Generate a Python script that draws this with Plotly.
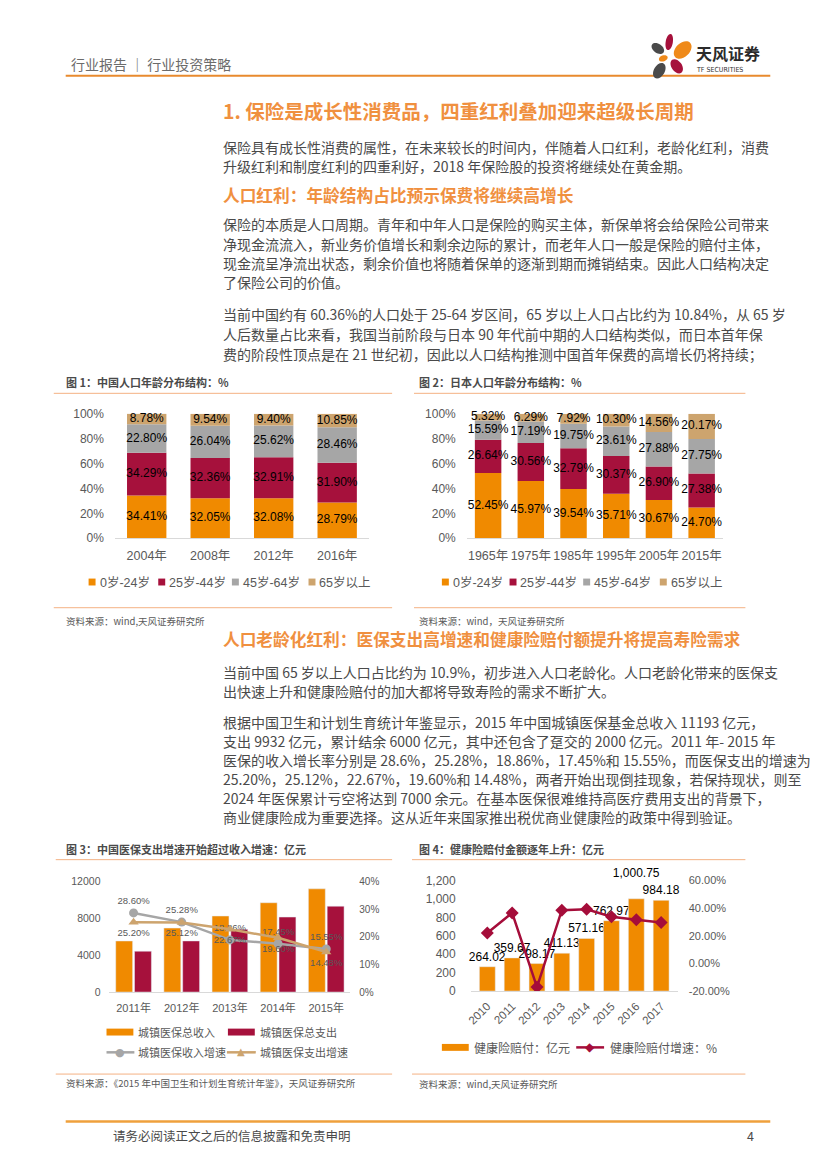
import math
import numpy as np
import plotly.graph_objects as go

W, H = 827, 1169


def px(x):
    return x / W


def py(y):
    return 1 - y / H


# ---------------- data ----------------
age_groups = ["0岁-24岁", "25岁-44岁", "45岁-64岁", "65岁以上"]

cn_years = ["2004年", "2008年", "2012年", "2016年"]
cn_0_24 = [34.41, 32.05, 32.08, 28.79]
cn_25_44 = [34.29, 32.36, 32.91, 31.90]
cn_45_64 = [22.80, 26.04, 25.62, 28.46]
cn_65 = [8.78, 9.54, 9.40, 10.85]

jp_years = ["1965年", "1975年", "1985年", "1995年", "2005年", "2015年"]
jp_0_24 = [52.45, 45.97, 39.54, 35.71, 30.67, 24.70]
jp_25_44 = [26.64, 30.56, 32.79, 30.37, 26.90, 27.38]
jp_45_64 = [15.59, 17.19, 19.75, 23.61, 27.88, 27.75]
jp_65 = [5.32, 6.29, 7.92, 10.30, 14.56, 20.17]

pct_ticks = [0, 20, 40, 60, 80, 100]

med_years = ["2011年", "2012年", "2013年", "2014年", "2015年"]
med_income = [5539, 6939, 8248, 9687, 11193]
med_expense = [4431, 5544, 6801, 8134, 9312]
med_income_growth = [0.2860, 0.2528, 0.1886, 0.1745, 0.1555]
med_expense_growth = [0.2520, 0.2512, 0.2267, 0.1960, 0.1448]
med_names = ["城镇医保总收入", "城镇医保总支出", "城镇医保收入增速", "城镇医保支出增速"]
med_ticks = [0, 4000, 8000, 12000]
med_rate_ticks = [0, 0.1, 0.2, 0.3, 0.4]

hi_years = ["2010", "2011", "2012", "2013", "2014", "2015", "2016", "2017"]
hi_claims = [264.02, 359.67, 298.17, 411.13, 571.16, 762.97, 1000.75, 984.18]
hi_growth = [0.22, 0.365, -0.171, 0.385, 0.392, 0.338, 0.315, 0.295]
hi_names = ["健康险赔付：亿元", "健康险赔付增速：%"]
hi_label_lift = [0, 0, 0, 0, 0, 0, 1, 0]
hi_ticks = [0, 200, 400, 600, 800, 1000, 1200]
hi_rate_ticks = [-0.2, 0, 0.2, 0.4, 0.6]

# ---------------- styles ----------------
ORANGE = "#F08A00"
CRIMSON = "#A6113C"
GRAY = "#A6A6A6"
TAN = "#CDA46E"
AGE_COLORS = [ORANGE, CRIMSON, GRAY, TAN]
HEAD = "#F0903F"
BODY = "#4A4A4A"
TICK = "#595959"
AXLINE = "#D9D9D9"
THIN = "#F4B183"
NUMF = "Liberation Sans, Noto Sans CJK SC, sans-serif"
CJK = "Noto Sans CJK SC, sans-serif"
BAR_W = 0.62

fig = go.Figure()


def stacked(xa, ya, cats, series):
    base = np.zeros(len(cats))
    for name, vals, col in zip(age_groups, series, AGE_COLORS):
        v = np.array(vals, dtype=float)
        fig.add_bar(x=cats, y=v, base=base, offset=-BAR_W / 2, width=BAR_W,
                    marker=dict(color=col, line=dict(width=0)), name=name,
                    xaxis=xa, yaxis=ya, hoverinfo="skip")
        fig.add_scatter(x=cats, y=base + v / 2, mode="text",
                        text=[f"{t:.2f}%" for t in v],
                        textfont=dict(size=12, color="black", family=NUMF),
                        xaxis=xa, yaxis=ya, cliponaxis=False, hoverinfo="skip")
        base = base + v


stacked("x", "y", cn_years, [cn_0_24, cn_25_44, cn_45_64, cn_65])
stacked("x2", "y2", jp_years, [jp_0_24, jp_25_44, jp_45_64, jp_65])

# chart 3
fig.add_bar(x=med_years, y=med_income, name=med_names[0], marker_color=ORANGE,
            xaxis="x3", yaxis="y3", hoverinfo="skip")
fig.add_bar(x=med_years, y=med_expense, name=med_names[1], marker_color=CRIMSON,
            xaxis="x3", yaxis="y3", hoverinfo="skip")
fig.add_scatter(x=med_years, y=med_income_growth, name=med_names[2],
                mode="lines+markers+text", line=dict(color=GRAY, width=2.5),
                marker=dict(symbol="circle", size=9, color=GRAY),
                text=[f"{v*100:.2f}%" for v in med_income_growth],
                textposition="top center",
                textfont=dict(size=9.5, color=TICK, family=NUMF),
                xaxis="x3", yaxis="y5", cliponaxis=False, hoverinfo="skip")
fig.add_scatter(x=med_years, y=med_expense_growth, name=med_names[3],
                mode="lines+markers+text", line=dict(color=TAN, width=2.5),
                marker=dict(symbol="triangle-up", size=9, color=TAN),
                text=[f"{v*100:.2f}%" for v in med_expense_growth],
                textposition="bottom center",
                textfont=dict(size=9.5, color=TICK, family=NUMF),
                xaxis="x3", yaxis="y5", cliponaxis=False, hoverinfo="skip")

# chart 4
fig.add_bar(x=hi_years, y=hi_claims, name=hi_names[0], marker_color=ORANGE,
            offset=-0.32, width=0.64,
            text=[f"{v:,.2f}" + ("<br> " if l else "") for v, l in zip(hi_claims, hi_label_lift)],
            textposition="outside", constraintext="none",
            textfont=dict(size=12, color="black", family=NUMF),
            xaxis="x4", yaxis="y4", cliponaxis=False, hoverinfo="skip")
fig.add_scatter(x=hi_years, y=hi_growth, name=hi_names[1], mode="lines+markers",
                line=dict(color="#A50D3A", width=2.5),
                marker=dict(symbol="diamond", size=10, color="#A50D3A"),
                xaxis="x4", yaxis="y6", hoverinfo="skip")


# ---------------- axes ----------------
def xax(x0, x1, anchor, size, angle=0, standoff=6):
    return dict(domain=[px(x0), px(x1)], anchor=anchor, type="category",
                showline=True, linecolor=AXLINE, linewidth=1, ticks="",
                showgrid=False, zeroline=False, tickangle=angle,
                ticklabelstandoff=standoff,
                tickfont=dict(size=size, color=TICK, family=NUMF))


def yax(ytop, ybot, anchor, rng, vals, texts, size, side="left",
        overlaying=None, standoff=8):
    d = dict(domain=[py(ybot), py(ytop)], anchor=anchor, range=rng,
             tickmode="array", tickvals=vals, ticktext=texts,
             showgrid=False, zeroline=False, showline=False, ticks="", side=side,
             ticklabelstandoff=standoff, fixedrange=True,
             tickfont=dict(size=size, color=TICK, family=NUMF))
    if overlaying:
        d["overlaying"] = overlaying
    return d


pct_text = [f"{v}%" for v in pct_ticks]
fig.update_layout(
    xaxis=xax(111.5, 366.7, "y", 12.5),
    yaxis=yax(411.7, 537.7, "x", [0, 100], pct_ticks, pct_text, 12, standoff=10),
    xaxis2=xax(465, 722.5, "y2", 12.5),
    yaxis2=yax(411.7, 537.7, "x2", [0, 100], pct_ticks, pct_text, 12, standoff=10),
    xaxis3=xax(106, 348, "y3", 11),
    yaxis3=yax(885, 997, "x3", [0, 12000], med_ticks, [str(v) for v in med_ticks],
               10.5, standoff=8),
    yaxis5=yax(885, 997, "x3", [0, 0.4], med_rate_ticks,
               [f"{v*100:.0f}%" for v in med_rate_ticks], 10,
               side="right", overlaying="y3", standoff=8),
    xaxis4=xax(469, 677, "y4", 11.5, angle=-45, standoff=3),
    yaxis4=yax(884, 996, "x4", [0, 1200], hi_ticks, [f"{v:,}" for v in hi_ticks],
               12, standoff=14),
    yaxis6=yax(884, 996, "x4", [-0.2, 0.6], hi_rate_ticks,
               [f"{v*100:.2f}%" for v in hi_rate_ticks], 11,
               side="right", overlaying="y4", standoff=10),
)

# ---------------- page text ----------------
ann = []
shapes = []


def text(x, y, s, size, color=BODY, family=CJK, bold=False, xanchor="left"):
    ann.append(dict(x=px(x), y=py(y), xref="paper", yref="paper", showarrow=False,
                    xanchor=xanchor, yanchor="middle",
                    text=f"<b>{s}</b>" if bold else s,
                    font=dict(size=size, color=color, family=family)))


def hline(x0, x1, y, color, width):
    shapes.append(dict(type="line", xref="paper", yref="paper", x0=px(x0), x1=px(x1),
                       y0=py(y), y1=py(y), line=dict(color=color, width=width)))


def rect(x0, x1, y0, y1, color):
    shapes.append(dict(type="rect", xref="paper", yref="paper", x0=px(x0), x1=px(x1),
                       y0=py(y1), y1=py(y0), fillcolor=color, line=dict(width=0)))


def petal(cx, cy, rx, ry, ang, color):
    k = 0.5523
    a = math.radians(ang)
    loc = [(rx, 0),
           (rx, k * ry), (k * rx, ry), (0, ry),
           (-k * rx, ry), (-rx, k * ry), (-rx, 0),
           (-rx, -k * ry), (-k * rx, -ry), (0, -ry),
           (k * rx, -ry), (rx, -k * ry), (rx, 0)]
    pts = []
    for lx, ly in loc:
        sx = cx + lx * math.cos(a) - ly * math.sin(a)
        sy = cy + lx * math.sin(a) + ly * math.cos(a)
        pts.append(f"{px(sx):.5f},{py(sy):.5f}")
    path = "M" + pts[0]
    for i in range(1, 13, 3):
        path += " C" + " ".join(pts[i:i + 3])
    path += " Z"
    shapes.append(dict(type="path", xref="paper", yref="paper", path=path,
                       fillcolor=color, line=dict(width=0)))


# header
text(65, 58, "行业报告 ｜ 行业投资策略", 14, color="#6B6B6B")
hline(62, 770, 69.5, "#E88A2E", 2)
petal(668.5, 35.5, 8.2, 3.6, 100, "#A6113C")
petal(682, 43.5, 10.5, 7, -45, "#EF8A1A")
petal(657, 42, 7, 4.6, 35, "#4A4A4A")
petal(662.5, 52, 4.6, 3, -20, "#EF8A1A")
petal(676, 60, 8, 5.2, 55, "#A6113C")
petal(658.5, 64.5, 8.5, 5.4, -60, "#4A4A4A")
text(693, 47, "天风证券", 16, color="#2B2B2B", bold=True)
text(693, 64, "TF SECURITIES", 7, color="#333333", family="DejaVu Sans Condensed, DejaVu Sans")

# body
text(218, 105, "1. 保险是成长性消费品，四重红利叠加迎来超级长周期", 19.5, color=HEAD, bold=True)
body_lines_1 = [
    (142, "保险具有成长性消费的属性，在未来较长的时间内，伴随着人口红利，老龄化红利，消费"),
    (161, "升级红利和制度红利的四重利好，2018 年保险股的投资将继续处在黄金期。"),
]
text(218, 190, "人口红利：年龄结构占比预示保费将继续高增长", 16.7, color=HEAD, bold=True)
body_lines_2 = [
    (220, "保险的本质是人口周期。青年和中年人口是保险的购买主体，新保单将会给保险公司带来"),
    (240, "净现金流流入，新业务价值增长和剩余边际的累计，而老年人口一般是保险的赔付主体，"),
    (259, "现金流呈净流出状态，剩余价值也将随着保单的逐渐到期而摊销结束。因此人口结构决定"),
    (278, "了保险公司的价值。"),
    (311, "当前中国约有 60.36%的人口处于 25-64 岁区间，65 岁以上人口占比约为 10.84%，从 65 岁"),
    (331, "人后数量占比来看，我国当前阶段与日本 90 年代前中期的人口结构类似，而日本首年保"),
    (351, "费的阶段性顶点是在 21 世纪初，因此以人口结构推测中国首年保费的高增长仍将持续；"),
]
text(218, 640, "人口老龄化红利：医保支出高增速和健康险赔付额提升将提高寿险需求", 16.7, color=HEAD, bold=True)
body_lines_3 = [
    (673, "当前中国 65 岁以上人口占比约为 10.9%，初步进入人口老龄化。人口老龄化带来的医保支"),
    (692, "出快速上升和健康险赔付的加大都将导致寿险的需求不断扩大。"),
    (724, "根据中国卫生和计划生育统计年鉴显示，2015 年中国城镇医保基金总收入 11193 亿元，"),
    (743, "支出 9932 亿元，累计结余 6000 亿元，其中还包含了趸交的 2000 亿元。2011 年- 2015 年"),
    (762, "医保的收入增长率分别是 28.6%，25.28%，18.86%，17.45%和 15.55%，而医保支出的增速为"),
    (781, "25.20%，25.12%，22.67%，19.60%和 14.48%，两者开始出现倒挂现象，若保持现状，则至"),
    (801, "2024 年医保累计亏空将达到 7000 余元。在基本医保很难维持高医疗费用支出的背景下，"),
    (820, "商业健康险成为重要选择。这从近年来国家推出税优商业健康险的政策中得到验证。"),
]
for y, s in body_lines_1 + body_lines_2 + body_lines_3:
    text(218, y, s, 14)

# chart frames
chart_titles = [
    (60, 380, "图 1：中国人口年龄分布结构：%"),
    (415, 380, "图 2：日本人口年龄分布结构：%"),
    (60, 852, "图 3：中国医保支出增速开始超过收入增速：亿元"),
    (415, 852, "图 4：健康险赔付金额逐年上升：亿元"),
]
for x, y, s in chart_titles:
    text(x, y, s, 11, color=BODY, bold=True)
sources = [
    (60, 621, "资料来源：wind,天风证券研究所"),
    (415, 621, "资料来源：wind，天风证券研究所"),
    (60, 1089, "资料来源：《2015 年中国卫生和计划生育统计年鉴》，天风证券研究所"),
    (415, 1090, "资料来源：wind,天风证券研究所"),
]
for x, y, s in sources:
    text(x, y, s, 9.5, color=TICK)
for y in (391, 608):
    hline(50, 390, y, THIN, 1)
    hline(412, 745, y, THIN, 1)
for y in (863, 1080):
    hline(52, 390, y, THIN, 1)
    hline(410, 745, y, THIN, 1)

# legends
for xs in ([85, 155, 229, 306], [440, 508, 582, 659]):
    for x0, name, col in zip(xs, age_groups, AGE_COLORS):
        rect(x0, x0 + 7, 578.5, 585.5, col)
        text(x0 + 9, 582, name, 12.5, color=TICK, family=NUMF)


def glyph(x, y, g, color, size):
    ann.append(dict(x=px(x), y=py(y), xref="paper", yref="paper", showarrow=False,
                    xanchor="center", yanchor="middle", text=g,
                    font=dict(size=size, color=color, family="DejaVu Sans")))


rect(103, 130, 1034, 1041, ORANGE)
text(133, 1037.5, med_names[0], 11, color=TICK)
rect(225, 252, 1034, 1041, CRIMSON)
text(255, 1037.5, med_names[1], 11, color=TICK)
hline(103, 131, 1058, GRAY, 2.5)
glyph(117, 1058, "●", GRAY, 11)
text(133, 1058, med_names[2], 11, color=TICK)
hline(224, 253, 1058, TAN, 2.5)
glyph(238.5, 1057.5, "▲", TAN, 10)
text(255, 1058, med_names[3], 11, color=TICK)

rect(440, 467, 1049.5, 1056.5, ORANGE)
text(470, 1053, hi_names[0], 12, color=TICK)
hline(575, 603, 1053, "#A50D3A", 2.5)
glyph(589, 1053, "◆", "#A50D3A", 12)
text(607, 1053, hi_names[1], 12, color=TICK)

# footer
hline(62, 770, 1128, "#EFA03C", 2.5)
text(108, 1142, "请务必阅读正文之后的信息披露和免责申明", 12.5, color=BODY)
text(756, 1142, "4", 12.5, color=BODY, xanchor="right")

fig.update_layout(
    width=W, height=H, autosize=False,
    margin=dict(l=0, r=0, t=0, b=0, pad=0),
    paper_bgcolor="white", plot_bgcolor="white",
    showlegend=False, barmode="group", bargap=0.22, bargroupgap=0.1,
    annotations=ann, shapes=shapes,
    font=dict(family=CJK, color=BODY),
)

fig.write_html("out.html", config={"displayModeBar": False, "staticPlot": True},
               post_script="document.body.style.margin='0px';document.body.style.overflow='hidden';")
